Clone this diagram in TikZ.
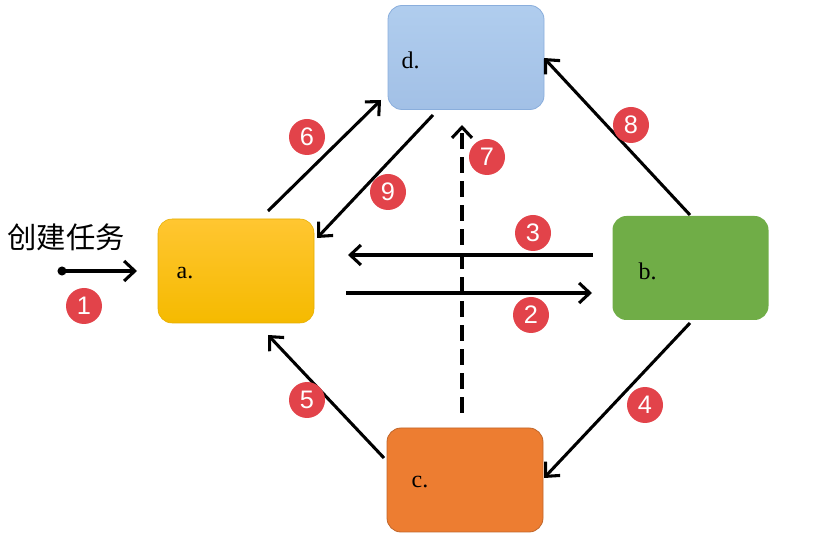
\documentclass[tikz,border=0pt]{standalone}
\usepackage{fontspec}
\setmainfont{Liberation Serif}
\newfontfamily\cjk{Noto Sans CJK SC}
\newfontfamily\numfont{Liberation Sans}
\usetikzlibrary{arrows.meta}
\definecolor{ayel}{HTML}{FFC000}
\definecolor{ayeltop}{HTML}{FFC631}
\definecolor{ayelbot}{HTML}{F5BA00}
\definecolor{dblue}{HTML}{A2C0E6}
\definecolor{dbluetop}{HTML}{B0CDEE}
\definecolor{dblueedge}{HTML}{8AAEDC}
\definecolor{bgreen}{HTML}{70AD47}
\definecolor{corange}{HTML}{ED7D31}
\definecolor{cedge}{HTML}{C0662A}
\definecolor{badge}{HTML}{E2434A}
\tikzset{
  box/.style={rounded corners=10.5pt, minimum width=117pt, minimum height=78pt, inner sep=0pt},
  lbl/.style={font=\fontsize{18}{18}\selectfont, anchor=west},
  conn/.style={line width=2.3pt, -{Straight Barb[length=8pt,width=15pt,line width=2.3pt]}},
  badgec/.style={circle, fill=badge, minimum size=27pt, inner sep=0pt, text=white, font=\numfont\fontsize{19}{19}\selectfont}
}
\begin{document}
\begin{tikzpicture}[x=0.75pt,y=-0.75pt]
\useasboundingbox (0,0) rectangle (840,552);
% boxes
\node[box, top color=ayeltop, bottom color=ayelbot, draw=ayel!90!black, line width=0.4pt] (a) at (236,271) {};
\node[box, top color=dbluetop, bottom color=dblue, draw=dblueedge, line width=0.6pt] (d) at (466,57.5) {};
\node[box, fill=bgreen] (b) at (690.5,268) {};
\node[box, fill=corange, draw=cedge, line width=0.6pt] (c) at (465,480) {};
\node[lbl] (ta) at (172,273) {a.};
\node[lbl] (td) at (397,60) {d.};
\node[lbl] (tb) at (634,271) {b.};
\node[lbl] (tc) at (407,482) {c.};
% start
\node[font=\cjk\fontsize{22}{22}\selectfont] (start) at (66,237) {创建任务};
\coordinate (s0) at (62,271);
\coordinate (s1) at (137,271);
\fill (s0) circle (3.4pt);
\draw[conn] (s0) -- (s1);
% connectors
\coordinate (p6a) at (268,211); \coordinate (p6b) at (381,100);
\coordinate (p9a) at (433,115); \coordinate (p9b) at (317,238);
\coordinate (p7a) at (462,413); \coordinate (p7b) at (462,125);
\coordinate (p3a) at (593,255); \coordinate (p3b) at (348,255);
\coordinate (p2a) at (346,293); \coordinate (p2b) at (592,293);
\coordinate (p8a) at (690,215); \coordinate (p8b) at (544,58);
\coordinate (p4a) at (690,323); \coordinate (p4b) at (544,478);
\coordinate (p5a) at (384,458); \coordinate (p5b) at (268,335);
\draw[conn] (p6a) -- (p6b);
\draw[conn] (p9a) -- (p9b);
\draw[conn, dash pattern=on 12pt off 6pt] (p7a) -- (p7b);
\draw[conn] (p3a) -- (p3b);
\draw[conn] (p2a) -- (p2b);
\draw[conn] (p8a) -- (p8b);
\draw[conn] (p4a) -- (p4b);
\draw[conn] (p5a) -- (p5b);
% badges
\node[badgec] (n1) at (84,306) {1};
\node[badgec] (n2) at (531,315) {2};
\node[badgec] (n3) at (533,233) {3};
\node[badgec] (n4) at (645,405) {4};
\node[badgec] (n5) at (307,400) {5};
\node[badgec] (n6) at (307,137) {6};
\node[badgec] (n7) at (487,157) {7};
\node[badgec] (n8) at (631,125) {8};
\node[badgec] (n9) at (388,192) {9};
\end{tikzpicture}
\end{document}
